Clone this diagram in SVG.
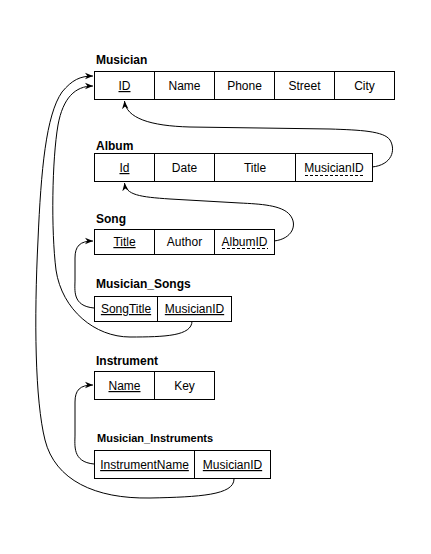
<svg xmlns="http://www.w3.org/2000/svg" width="431" height="554" viewBox="0 0 431 554">
<style>
.lbl{font-family:"Liberation Sans",Arial,sans-serif;font-size:12px;font-weight:bold;fill:#000}
.lbl2{font-family:"Liberation Sans",Arial,sans-serif;font-size:11px;font-weight:bold;fill:#000}
.c{fill:#fff;stroke:#000;stroke-width:1}
.t{font-family:"Liberation Sans",Arial,sans-serif;font-size:12px;fill:#000;text-anchor:middle}
.u{text-decoration:underline}
.dash{stroke:#000;stroke-width:1;stroke-dasharray:3,2}
.e{fill:none;stroke:#000;stroke-width:1;marker-end:url(#arr)}
</style>
<defs>
<marker id="arr" viewBox="0 0 10 10" refX="10" refY="5" markerWidth="8" markerHeight="8" markerUnits="userSpaceOnUse" orient="auto">
<path d="M0,1 L10,5 L0,9 L3,5 z" fill="#000"/>
</marker>
</defs>
<rect width="431" height="554" fill="#fff"/>
<g id="Musician">
<text class="lbl" x="96" y="64">Musician</text>
<rect class="c" x="94.5" y="71.5" width="60" height="28"/>
<rect class="c" x="154.5" y="71.5" width="60" height="28"/>
<rect class="c" x="214.5" y="71.5" width="60" height="28"/>
<rect class="c" x="274.5" y="71.5" width="60" height="28"/>
<rect class="c" x="334.5" y="71.5" width="60" height="28"/>
<text class="t u" x="124.5" y="90">ID</text>
<text class="t" x="184.5" y="90">Name</text>
<text class="t" x="244.5" y="90">Phone</text>
<text class="t" x="304.5" y="90">Street</text>
<text class="t" x="364.5" y="90">City</text>
</g>
<g id="Album">
<text class="lbl" x="96" y="150">Album</text>
<rect class="c" x="94.5" y="153.5" width="60" height="28"/>
<rect class="c" x="154.5" y="153.5" width="60" height="28"/>
<rect class="c" x="214.5" y="153.5" width="81" height="28"/>
<rect class="c" x="295.5" y="153.5" width="77" height="28"/>
<text class="t u" x="124.5" y="172">Id</text>
<text class="t" x="184.5" y="172">Date</text>
<text class="t" x="255" y="172">Title</text>
<text class="t" x="334" y="172">MusicianID</text>
<line class="dash" x1="305" y1="175.5" x2="364" y2="175.5"/>
</g>
<g id="Song">
<text class="lbl" x="96" y="223">Song</text>
<rect class="c" x="94.5" y="229.5" width="60" height="25"/>
<rect class="c" x="154.5" y="229.5" width="60" height="25"/>
<rect class="c" x="214.5" y="229.5" width="60" height="25"/>
<text class="t u" x="124.5" y="246">Title</text>
<text class="t" x="184.5" y="246">Author</text>
<text class="t" x="244.5" y="246">AlbumID</text>
<line class="dash" x1="222" y1="248.5" x2="268" y2="248.5"/>
</g>
<g id="Musician_Songs">
<text class="lbl" x="96" y="288">Musician_Songs</text>
<rect class="c" x="94.5" y="296.5" width="63" height="25"/>
<rect class="c" x="157.5" y="296.5" width="74" height="25"/>
<text class="t u" x="126" y="313">SongTitle</text>
<text class="t u" x="194.5" y="313">MusicianID</text>
</g>
<g id="Instrument">
<text class="lbl" x="96" y="365">Instrument</text>
<rect class="c" x="94.5" y="371.5" width="60" height="28"/>
<rect class="c" x="154.5" y="371.5" width="60" height="28"/>
<text class="t u" x="124.5" y="390">Name</text>
<text class="t" x="184.5" y="390">Key</text>
</g>
<g id="Musician_Instruments">
<text class="lbl2" x="97" y="442">Musician_Instruments</text>
<rect class="c" x="94.5" y="450.5" width="100" height="28"/>
<rect class="c" x="194.5" y="450.5" width="76" height="28"/>
<text class="t u" x="144.5" y="469">InstrumentName</text>
<text class="t u" x="232.5" y="469">MusicianID</text>
</g>
<g id="connectors">
<path class="e" d="M372,167 C392,165 396,150 390,140 C384,131 360,130 330,129 L190,127 C150,126 126,118 124.5,101"/>
<path class="e" d="M274,241 C292,239 298,225 290,215 C282,205 260,204 240,203 L170,199 C140,197 126,195 124.5,183"/>
<path class="e" d="M94,308 C72,306 75,290 75,280 L75,258 C75,246 80,241 93,241"/>
<path class="e" d="M192,321 C192,336 165,337 130,337 C95,337 62,310 56,270 C51,230 52,160 58,125 C63,98 75,86 93,86"/>
<path class="e" d="M94,464 C72,462 75,445 75,435 L75,402 C75,390 80,385 93,385"/>
<path class="e" d="M234,479 C234,495 200,497 150,498 C95,499 55,480 45,440 C35,400 34,320 38,240 C41,170 46,115 62,92 C72,80 80,76 93,76"/>
</g>
</svg>
